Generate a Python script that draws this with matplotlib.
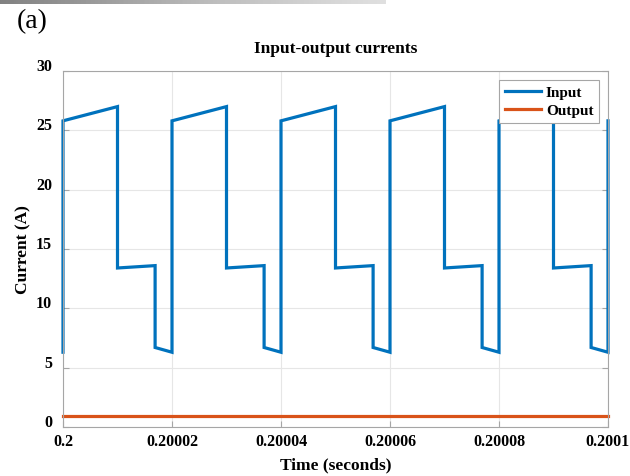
import numpy as np
import matplotlib.pyplot as plt
import matplotlib.transforms as mtransforms

# input current waveform, breakpoints (time in s, current in A)
t_in = [0.2, 0.2,
        0.2000100, 0.2000100, 0.2000169, 0.2000169, 0.20002, 0.20002,
        0.2000300, 0.2000300, 0.2000369, 0.2000369, 0.20004, 0.20004,
        0.2000500, 0.2000500, 0.2000569, 0.2000569, 0.20006, 0.20006,
        0.2000700, 0.2000700, 0.2000769, 0.2000769, 0.20008, 0.20008,
        0.2000900, 0.2000900, 0.2000969, 0.2000969, 0.2001, 0.2001]
i_in = [6.3, 25.8,
        27.0, 13.4, 13.6, 6.7, 6.3, 25.8,
        27.0, 13.4, 13.6, 6.7, 6.3, 25.8,
        27.0, 13.4, 13.6, 6.7, 6.3, 25.8,
        27.0, 13.4, 13.6, 6.7, 6.3, 25.8,
        27.0, 13.4, 13.6, 6.7, 6.3, 25.8]

# output current (constant)
t_out = [0.2, 0.2001]
i_out = [0.95, 0.95]

xticks = [0.2, 0.20002, 0.20004, 0.20006, 0.20008, 0.2001]
xticklabels = ["0.2", "0.20002", "0.20004", "0.20006", "0.20008", "0.2001"]
yticks = [0, 5, 10, 15, 20, 25, 30]

plt.rcParams['font.family'] = ['Liberation Serif', 'DejaVu Serif']
plt.rcParams['font.weight'] = 'bold'

fig = plt.figure(figsize=(6.3, 4.77), dpi=100)

# gray strip along the top edge
strip = fig.add_axes([0, 1 - 5 / 477, 385 / 630, 5 / 477])
grad = np.linspace(0, 1, 256).reshape(1, -1)
strip.imshow(grad, aspect='auto', cmap='Greys_r', vmin=-1.2, vmax=1.6)
strip.axis('off')

fig.text(17 / 630, 1 - 22 / 477, "(a)", fontsize=20, fontweight='normal',
         family=['Liberation Serif'], va='center', ha='left')

ax = fig.add_axes([63 / 630, 49 / 477, 545 / 630, 356 / 477])

ax.plot(t_in, i_in, color='#0072BD', lw=2.3, label='Input',
        solid_joinstyle='miter', clip_on=False)
ax.plot(t_out, i_out, color='#D95319', lw=2.3, label='Output', clip_on=False)

ax.set_xlim(0.2, 0.2001)
ax.set_ylim(0, 30)
ax.set_xticks(xticks)
ax.set_xticklabels(xticklabels)
ax.set_yticks(yticks)

ax.grid(True, color='#e6e6e6', lw=0.8)
ax.set_axisbelow(True)
for s in ax.spines.values():
    s.set_color('#a6a6a6')
    s.set_linewidth(0.8)
ax.tick_params(direction='in', length=4, color='#a6a6a6', labelsize=11.5,
               right=True, top=False)
ax.tick_params(axis='x', pad=4)
ax.tick_params(axis='y', pad=8)
for lab in ax.get_xticklabels() + ax.get_yticklabels():
    lab.set_fontweight('bold')

# y tick labels sit slightly above their ticks
shift = mtransforms.ScaledTranslation(0, 5 / 72, fig.dpi_scale_trans)
for lab in ax.get_yticklabels():
    lab.set_transform(lab.get_transform() + shift)

ax.set_title("Input-output currents", fontsize=12.5, fontweight='bold', pad=14)
ax.set_xlabel("Time (seconds)", fontsize=12.5, fontweight='bold', labelpad=6)
ax.set_ylabel("Current (A)", fontsize=12.5, fontweight='bold', labelpad=3)

leg = ax.legend(loc='upper right', fontsize=11, frameon=True, fancybox=False,
                framealpha=1, edgecolor='#a6a6a6', handlelength=2.4,
                borderaxespad=0.6, handletextpad=0.3, labelspacing=0.3,
                borderpad=0.35)
leg.get_frame().set_linewidth(0.8)
for txt in leg.get_texts():
    txt.set_fontweight('bold')

fig.savefig("out.png", dpi=100)
